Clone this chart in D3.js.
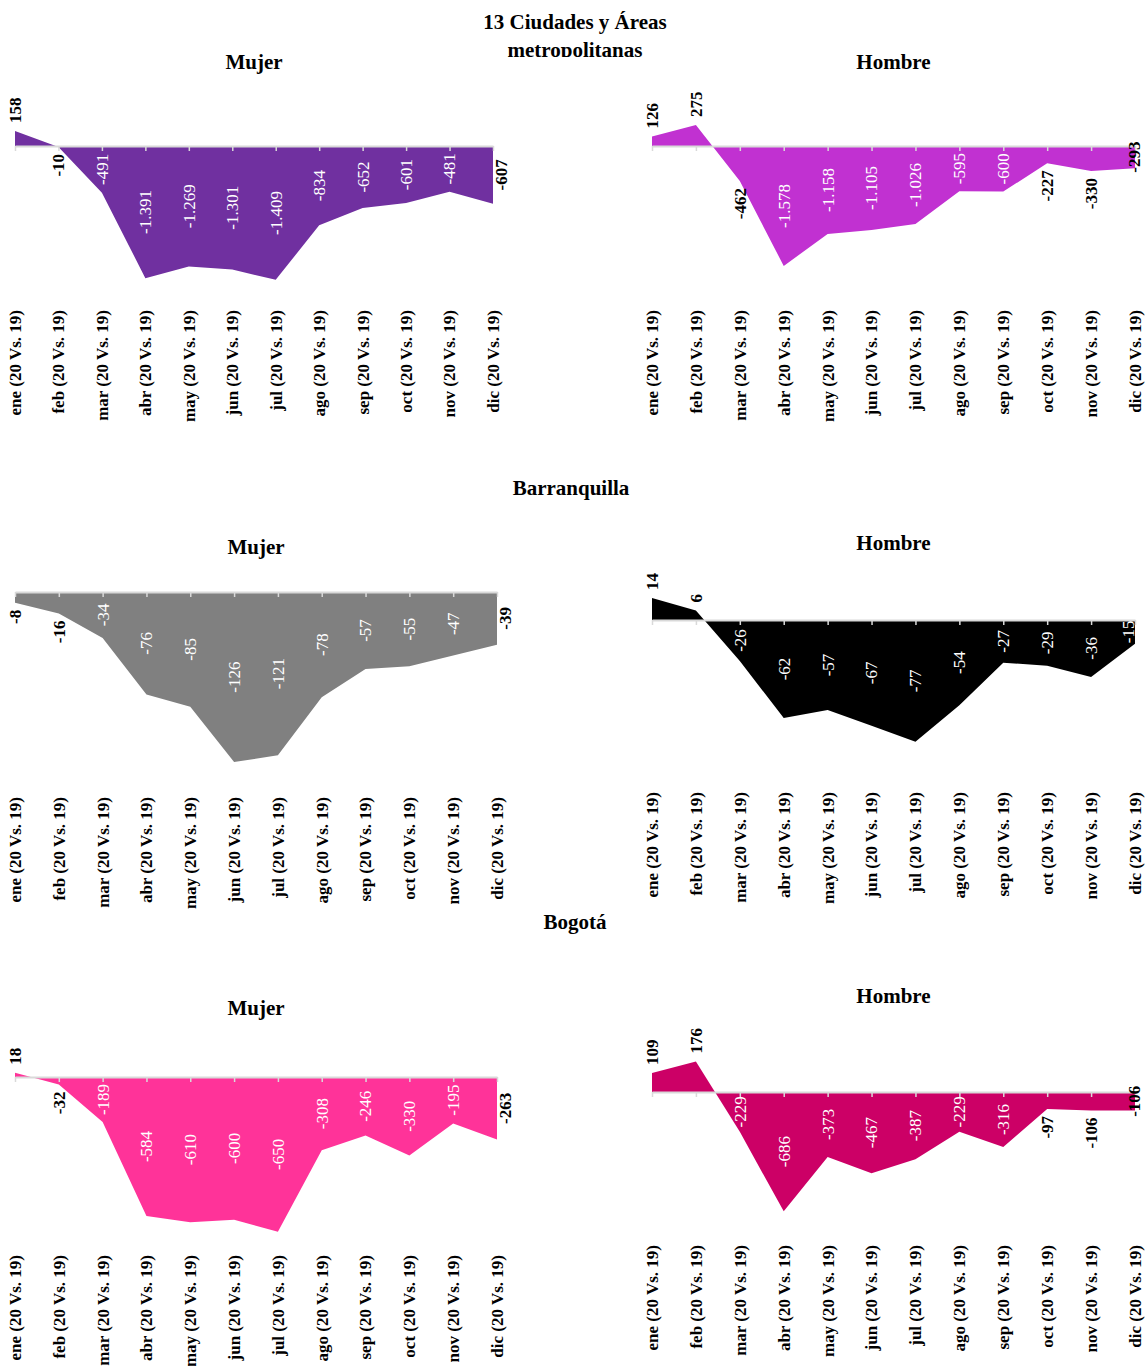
<!DOCTYPE html>
<html>
<head>
<meta charset="utf-8">
<script src="https://cdn.jsdelivr.net/npm/d3@7"></script>
<style>
  html, body { margin: 0; padding: 0; background: #fff; }
  svg text { font-family: "Liberation Serif", "Times New Roman", serif; }
</style>
</head>
<body>
<svg id="chart" width="1146" height="1366"></svg>
<script>
// ---- data ----
const months = ["ene (20 Vs. 19)", "feb (20 Vs. 19)", "mar (20 Vs. 19)", "abr (20 Vs. 19)",
  "may (20 Vs. 19)", "jun (20 Vs. 19)", "jul (20 Vs. 19)", "ago (20 Vs. 19)",
  "sep (20 Vs. 19)", "oct (20 Vs. 19)", "nov (20 Vs. 19)", "dic (20 Vs. 19)"];
const ciudadesMujer = [158, -10, -491, -1391, -1269, -1301, -1409, -834, -652, -601, -481, -607];
const ciudadesHombre = [126, 275, -462, -1578, -1158, -1105, -1026, -595, -600, -227, -330, -293];
const barranquillaMujer = [-8, -16, -34, -76, -85, -126, -121, -78, -57, -55, -47, -39];
const barranquillaHombre = [14, 6, -26, -62, -57, -67, -77, -54, -27, -29, -36, -15];
const bogotaMujer = [18, -32, -189, -584, -610, -600, -650, -308, -246, -330, -195, -263];
const bogotaHombre = [109, 176, -229, -686, -373, -467, -387, -229, -316, -97, -106, -106];
const sectionTitles = ["13 Ciudades y Áreas", "metropolitanas", "Barranquilla", "Bogotá"];
const panelTitles = ["Mujer", "Hombre"];

// ---- layout ----
const W = 1146;
const svg = d3.select("#chart");
const fmt = d3.formatLocale({decimal: ",", thousands: ".", grouping: [3], currency: ["$", ""], minus: "-"}).format(",d");

const panels = [
  {values: ciudadesMujer, title: panelTitles[0], color: "#7030A0", x: [15, 493], dom: [-1600, 200], rng: [298, 127], titleY: 62, labelTop: 310},
  {values: ciudadesHombre, title: panelTitles[1], color: "#C131D1", x: [652, 1135], dom: [-2000, 500], rng: [298, 108], titleY: 62, labelTop: 310},
  {values: barranquillaMujer, title: panelTitles[0], color: "#808080", x: [15, 497], dom: [-140, 0], rng: [781, 592], titleY: 547, labelTop: 797},
  {values: barranquillaHombre, title: panelTitles[1], color: "#000000", x: [652, 1135], dom: [-100, 20], rng: [778, 588.4], titleY: 543, labelTop: 792},
  {values: bogotaMujer, title: panelTitles[0], color: "#FF3399", x: [15, 497], dom: [-700, 100], rng: [1243.6, 1053.2], titleY: 1008, labelTop: 1255},
  {values: bogotaHombre, title: panelTitles[1], color: "#CC0066", x: [652, 1135], dom: [-800, 200], rng: [1231.2, 1057.2], titleY: 996, labelTop: 1245}
];

// section titles
svg.append("defs").append("clipPath").attr("id", "titleClip")
  .append("rect").attr("x", 0).attr("y", 0).attr("width", W).attr("height", 57);
const tg = svg.append("g").attr("clip-path", "url(#titleClip)");
[[sectionTitles[0], 575, 22], [sectionTitles[1], 575, 50]].forEach(([t, x, y]) => {
  tg.append("text").attr("x", x).attr("y", y).attr("dy", "0.35em")
    .attr("text-anchor", "middle").attr("font-size", 21).attr("font-weight", "bold").text(t);
});
[[sectionTitles[2], 571, 488], [sectionTitles[3], 575, 922]].forEach(([t, x, y]) => {
  svg.append("text").attr("x", x).attr("y", y).attr("dy", "0.35em")
    .attr("text-anchor", "middle").attr("font-size", 21).attr("font-weight", "bold").text(t);
});

panels.forEach(p => {
  const g = svg.append("g");
  const x = d3.scalePoint().domain(months).range(p.x);
  const y = d3.scaleLinear().domain(p.dom).range(p.rng);
  const data = months.map((m, i) => ({m, v: p.values[i], i}));

  // title
  g.append("text").attr("x", (p.x[0] + p.x[1]) / 2).attr("y", p.titleY).attr("dy", "0.35em")
    .attr("text-anchor", "middle").attr("font-size", 21).attr("font-weight", "bold").text(p.title);

  // area
  const area = d3.area().x(d => x(d.m)).y0(y(0)).y1(d => y(d.v)).curve(d3.curveLinear);
  g.append("path").datum(data).attr("d", area).attr("fill", p.color);

  // axis
  const ax = g.append("g").attr("transform", `translate(0,${y(0)})`)
    .call(d3.axisBottom(x).tickSize(5).tickSizeOuter(0).tickFormat(""));
  ax.select(".domain").attr("stroke", "#D9D9D9").attr("stroke-width", 2);
  ax.selectAll(".tick line").attr("stroke", "#D9D9D9").attr("stroke-width", 1.5);

  // category labels
  g.selectAll("text.cat").data(data).enter().append("text").attr("class", "cat")
    .attr("transform", d => `translate(${x(d.m)},${p.labelTop}) rotate(-90)`)
    .attr("dy", "0.35em").attr("text-anchor", "end")
    .attr("font-size", 17).attr("font-weight", "bold").attr("fill", "#000")
    .text(d => d.m);

  // data labels
  const last = months.length - 1;
  data.forEach(d => {
    const t = g.append("text").attr("dy", "0.35em").attr("font-size", 17)
      .attr("font-weight", "bold").text(fmt(d.v));
    const len = t.node().getComputedTextLength();
    const px = x(d.m);
    const py = y(d.v), p0 = y(0);
    let cx = px, cy, color = "#000", weight = "bold";
    if (d.v >= 0) {
      cy = py - 8 - len / 2;
    } else if (d.i === last) {
      cx = Math.min(px + 8, W - 12); cy = (py + p0) / 2;
      if (cx < px && py - p0 >= len) { cx = px - 7; color = "#fff"; weight = "normal"; }
    } else if (py - p0 >= len + 5) {
      cy = (py + p0) / 2; color = "#fff"; weight = "normal";
    } else {
      cy = py + 7 + len / 2;
    }
    t.attr("font-weight", weight).attr("fill", color).attr("text-anchor", "middle")
      .attr("transform", `translate(${cx},${cy}) rotate(-90)`);
  });
});
</script>
</body>
</html>
